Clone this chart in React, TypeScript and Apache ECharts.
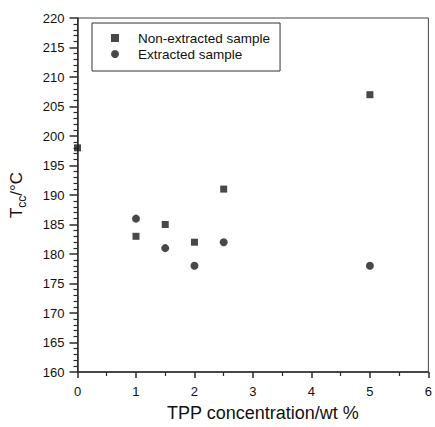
import React, { useEffect, useRef } from "react";
import * as echarts from "echarts";

const seriesNames = ["Non-extracted sample", "Extracted sample"];
const nonExtractedX = [0, 1, 1.5, 2, 2.5, 5];
const nonExtractedY = [198, 183, 185, 182, 191, 207];
const extractedX = [1, 1.5, 2, 2.5, 5];
const extractedY = [186, 181, 178, 182, 178];

const xTitle = "TPP concentration/wt %";

export default function App() {
  const ref = useRef<HTMLDivElement>(null);
  useEffect(() => {
    if (!ref.current) return;
    const chart = echarts.init(ref.current, undefined, { renderer: "svg" });
    const font = "Arial, 'Liberation Sans', Helvetica, sans-serif";
    const axisColor = "#2a2a2a";
    chart.setOption({
      animation: false,
      backgroundColor: "#ffffff",
      textStyle: { fontFamily: font },
      grid: {
        left: 77,
        right: 2,
        top: 18,
        bottom: 55,
        show: true,
        borderColor: "#444",
        borderWidth: 1,
      },
      legend: {
        orient: "vertical",
        left: 92,
        top: 23,
        padding: [8, 10, 10, 19],
        itemWidth: 8,
        itemHeight: 8,
        itemGap: 2,
        borderColor: "#333",
        borderWidth: 1,
        textStyle: { fontSize: 13.5, color: "#111", fontFamily: font, padding: [0, 0, 0, 14] },
        data: [
          { name: seriesNames[0], icon: "rect" },
          { name: seriesNames[1], icon: "circle" },
        ],
      },
      xAxis: {
        type: "value",
        min: 0,
        max: 6,
        interval: 1,
        name: xTitle,
        nameLocation: "middle",
        nameGap: 32,
        nameTextStyle: { fontSize: 18, color: "#111", padding: [0, 0, 0, 20] },
        axisLine: { lineStyle: { color: axisColor, width: 1.5 } },
        axisTick: { show: true, inside: false, length: 6, lineStyle: { color: axisColor, width: 1.5 } },
        minorTick: { show: true, splitNumber: 2, length: 4, lineStyle: { color: axisColor, width: 1.2 } },
        axisLabel: { fontSize: 13, color: "#111", margin: 13 },
        splitLine: { show: false },
      },
      yAxis: {
        type: "value",
        min: 160,
        max: 220,
        interval: 5,
        name: "{t|T}{s|cc}{t|/°C}",
        nameLocation: "middle",
        nameRotate: 90,
        nameGap: 50,
        nameTextStyle: {
          color: "#111",
          rich: {
            t: { fontSize: 17, color: "#111", lineHeight: 22, fontFamily: font },
            s: { fontSize: 12, color: "#111", lineHeight: 22, verticalAlign: "bottom", fontFamily: font },
          },
        },
        axisLine: { onZero: false, lineStyle: { color: axisColor, width: 1.5 } },
        axisTick: { show: true, inside: false, length: 8, lineStyle: { color: axisColor, width: 1.5 } },
        minorTick: { show: true, splitNumber: 5, length: 4, lineStyle: { color: axisColor, width: 1.2 } },
        axisLabel: { fontSize: 13, color: "#111", margin: 13 },
        splitLine: { show: false },
      },
      series: [
        {
          name: seriesNames[0],
          type: "scatter",
          symbol: "rect",
          symbolSize: 7,
          itemStyle: { color: "#1a1a1a" },
          data: nonExtractedX.map((x, i) => [x, nonExtractedY[i]]),
        },
        {
          name: seriesNames[1],
          type: "scatter",
          symbol: "circle",
          symbolSize: 8,
          itemStyle: { color: "#1a1a1a" },
          data: extractedX.map((x, i) => [x, extractedY[i]]),
        },
      ],
    });
    return () => chart.dispose();
  }, []);
  return (
    <div
      ref={ref}
      style={{ position: "fixed", left: 0, top: 0, width: 435, height: 427, background: "#fff" }}
    />
  );
}
